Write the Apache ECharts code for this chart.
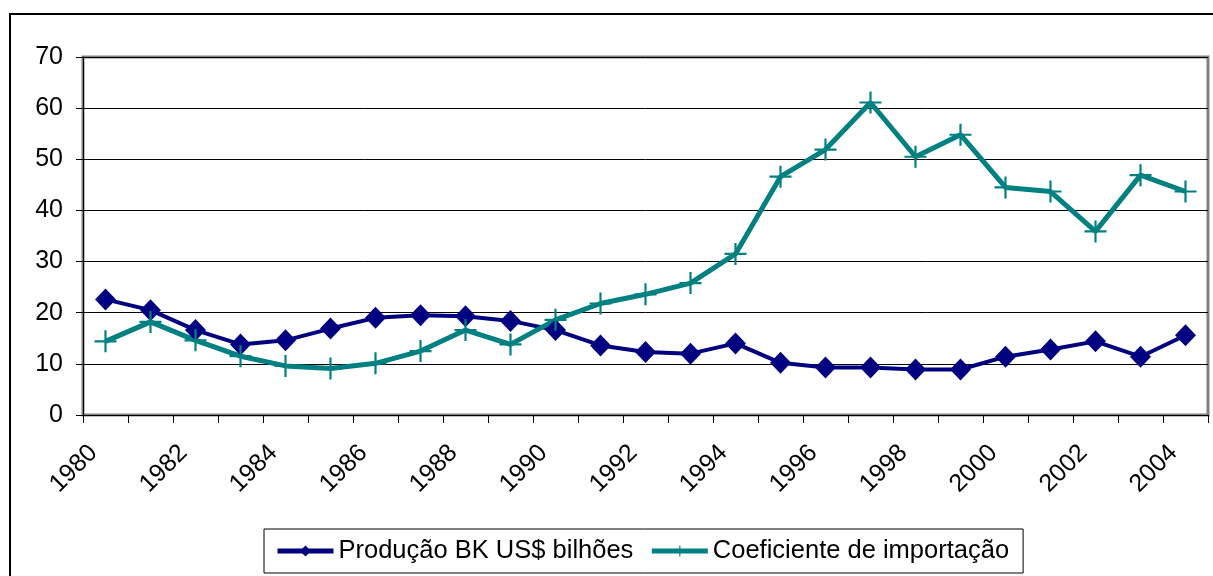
<!DOCTYPE html>
<html>
<head>
    <meta charset="utf-8">
    <title>Produção BK e coeficiente de importação</title>
    <script type="text/javascript" src="https://cdn.jsdelivr.net/npm/echarts@6/dist/echarts.min.js"></script>
    <style>
        html, body { margin: 0; padding: 0; background: #fff; }
    </style>
</head>
<body>
    <div id="main" style="width: 1213px;height:576px;"></div>

    <script type="text/javascript">
        // anos (eixo x)
        var anos = ['1980', '1981', '1982', '1983', '1984', '1985', '1986', '1987', '1988', '1989',
                    '1990', '1991', '1992', '1993', '1994', '1995', '1996', '1997', '1998', '1999',
                    '2000', '2001', '2002', '2003', '2004'];

        // Produção BK US$ bilhões
        var producaoBK = [22.6, 20.5, 16.6, 13.8, 14.6, 16.9, 19.0, 19.5, 19.3, 18.4,
                          16.6, 13.6, 12.3, 12.0, 14.0, 10.2, 9.3, 9.3, 8.9, 8.9,
                          11.4, 12.8, 14.4, 11.4, 15.6];

        // Coeficiente de importação
        var coefImportacao = [14.4, 18.2, 14.6, 11.5, 9.6, 9.1, 10.1, 12.5, 16.6, 13.8,
                              18.6, 21.8, 23.6, 25.8, 31.5, 46.6, 51.9, 61.1, 50.5, 54.8,
                              44.5, 43.7, 35.9, 46.9, 43.7];

        var fonte = '"Liberation Sans", Arial, sans-serif';
        // marcador "+" preenchido (braços finos)
        var cruz = 'path://M9,0h2v20h-2z M0,9h20v2h-20z';

        var myChart = echarts.init(document.getElementById('main'));

        myChart.setOption({
            animation: false,
            textStyle: { fontFamily: fonte, color: '#000' },
            graphic: [{
                // borda externa do gráfico
                type: 'rect',
                shape: { x: 10, y: 14, width: 1240, height: 620 },
                style: { fill: 'none', stroke: '#000', lineWidth: 2 },
                silent: true
            }],
            grid: {
                left: 83,
                right: 5,
                top: 57,
                bottom: 161,
                show: true,
                borderColor: '#808080',
                borderWidth: 3,
                backgroundColor: '#fff'
            },
            legend: {
                left: 264,
                top: 529,
                padding: [9, 14, 9, 11],
                borderColor: '#000',
                borderWidth: 1,
                itemWidth: 56,
                itemHeight: 14,
                itemGap: 16,
                lineStyle: { width: 5 },
                textStyle: { fontFamily: fonte, fontSize: 25.5, color: '#000' },
                data: ['Produção BK US$ bilhões', 'Coeficiente de importação']
            },
            xAxis: {
                type: 'category',
                data: anos,
                boundaryGap: true,
                axisLine: { show: true, lineStyle: { color: '#000', width: 1 } },
                axisTick: { show: true, interval: 0, length: 8, lineStyle: { color: '#000', width: 1 } },
                axisLabel: {
                    interval: 1,
                    rotate: 45,
                    margin: 22,
                    padding: [0, 17, 0, 0],
                    fontSize: 25,
                    fontFamily: fonte,
                    color: '#000'
                },
                splitLine: { show: false }
            },
            yAxis: {
                type: 'value',
                min: 0,
                max: 70,
                interval: 10,
                axisLine: { show: true, lineStyle: { color: '#000', width: 1 } },
                axisTick: { show: true, length: 7, lineStyle: { color: '#000' } },
                axisLabel: { margin: 20, fontSize: 25, fontFamily: fonte, color: '#000' },
                splitLine: { lineStyle: { color: '#000', width: 1 } }
            },
            series: [{
                name: 'Produção BK US$ bilhões',
                type: 'line',
                data: producaoBK,
                symbol: 'diamond',
                symbolSize: [21, 22],
                lineStyle: { color: '#000080', width: 4 },
                itemStyle: { color: '#000080' }
            }, {
                name: 'Coeficiente de importação',
                type: 'line',
                data: coefImportacao,
                symbol: cruz,
                symbolSize: 22,
                lineStyle: { color: '#008080', width: 5 },
                itemStyle: { color: '#008080' }
            }]
        });
    </script>
</body>
</html>
